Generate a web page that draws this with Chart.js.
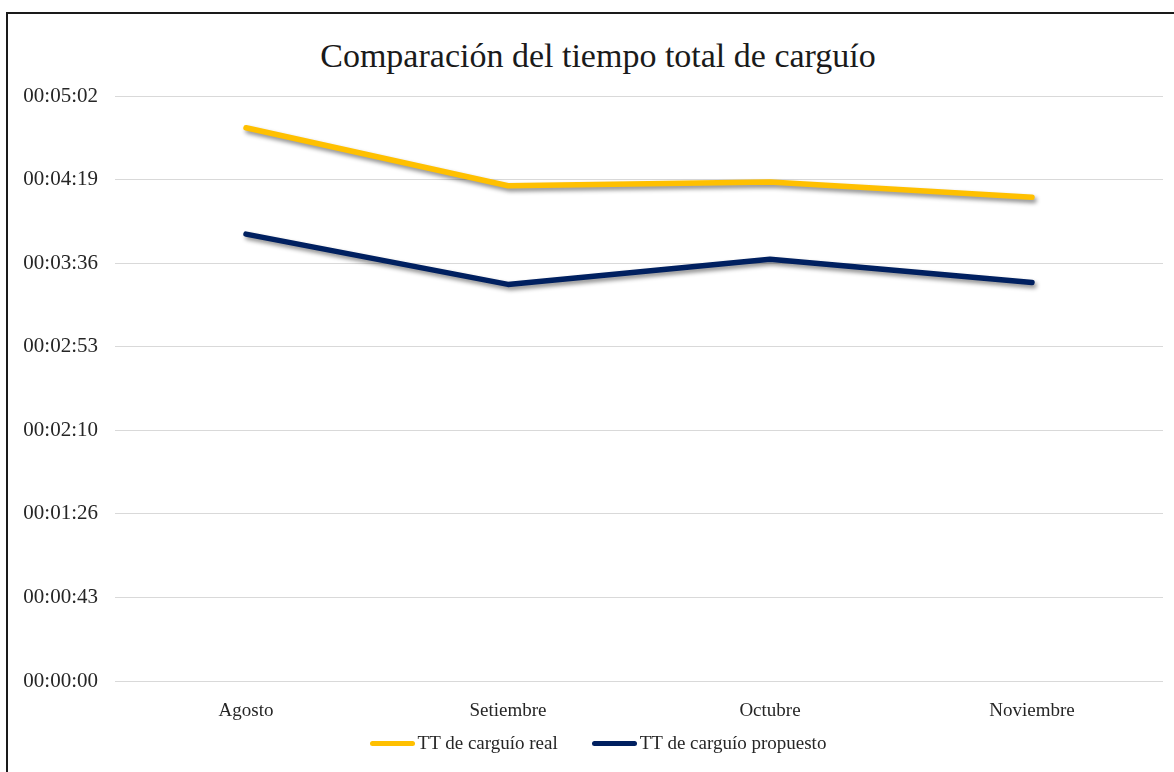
<!DOCTYPE html>
<html lang="es">
<head>
<meta charset="utf-8">
<title>Comparación del tiempo total de carguío</title>
<script src="https://cdn.jsdelivr.net/npm/chart.js@4.4.1/dist/chart.umd.min.js"></script>
<style>
    html, body { margin: 0; padding: 0; background: #fff; overflow: hidden; }
    body { width: 1174px; height: 772px; position: relative; font-family: "Liberation Serif", "Times New Roman", serif; }
    .frame { position: absolute; left: 6px; top: 12px; width: 1186px; height: 800px; border: 2px solid #1a1a1a; box-sizing: border-box; }
    .chart-title { position: absolute; left: 0; top: 35px; width: 1196px; text-align: center; font-size: 34px; line-height: 41px; color: #1a1a1a; }
    #chartWrap { position: absolute; left: 8px; top: 14px; width: 1180px; height: 758px; }
    .legend { position: absolute; left: 0; top: 732px; width: 1196px; display: flex; justify-content: center; align-items: center; font-size: 19px; color: #262626; }
    .legend-item { display: flex; align-items: center; margin: 0 17px; }
    .legend-line { width: 45px; height: 5px; border-radius: 3px; margin-right: 3px; }
</style>
</head>
<body>
<div class="frame"></div>
<div class="chart-title">Comparación del tiempo total de carguío</div>
<div id="chartWrap"><canvas id="tiempoChart"></canvas></div>
<div class="legend" id="legend"></div>

<script>
// ── Data (seconds) ───────────────────────────────────────────
const meses = ["Agosto", "Setiembre", "Octubre", "Noviembre"];
const ttReal = [286, 256, 258, 250];
const ttPropuesto = [231, 205, 218, 206];

// Y ticks: steps of 43.2 s (0.0005 day)
const tickSeconds = [0, 43.2, 86.4, 129.6, 172.8, 216, 259.2, 302.4];
const tickLabels = ["00:00:00", "00:00:43", "00:01:26", "00:02:10", "00:02:53", "00:03:36", "00:04:19", "00:05:02"];

const series = [
    { label: "TT de carguío real", data: ttReal, color: "#FFC000" },
    { label: "TT de carguío propuesto", data: ttPropuesto, color: "#002060" },
];

const FONT = "'Liberation Serif', 'Times New Roman', serif";

// Soft drop shadow under each line
const lineShadow = {
    id: "lineShadow",
    beforeDatasetDraw(chart) {
        const ctx = chart.ctx;
        ctx.save();
        ctx.shadowColor = "rgba(0, 0, 0, 0.45)";
        ctx.shadowBlur = 4;
        ctx.shadowOffsetX = 2;
        ctx.shadowOffsetY = 3;
    },
    afterDatasetDraw(chart) {
        chart.ctx.restore();
    }
};

const ctx = document.getElementById("tiempoChart").getContext("2d");
new Chart(ctx, {
    type: "line",
    data: {
        labels: meses,
        datasets: series.map(s => ({
            label: s.label,
            data: s.data,
            borderColor: s.color,
            backgroundColor: s.color,
            borderWidth: 5.5,
            borderCapStyle: "round",
            borderJoinStyle: "round",
            pointRadius: 0,
            tension: 0,
            fill: false,
        }))
    },
    options: {
        responsive: true,
        maintainAspectRatio: false,
        animation: false,
        // title sits in HTML above; top padding leaves room for it
        layout: { padding: { left: 0, right: 25, top: 82, bottom: 51 } },
        plugins: {
            legend: { display: false },
            tooltip: { enabled: false },
            title: { display: false }
        },
        scales: {
            x: {
                offset: true,
                grid: { display: false },
                border: { display: false },
                ticks: { color: "#262626", padding: 11, font: { family: FONT, size: 19 } },
                afterFit: axis => { axis.height = 40; }
            },
            y: {
                min: 0,
                max: 302.4,
                afterBuildTicks: axis => { axis.ticks = tickSeconds.map(v => ({ value: v })); },
                afterFit: axis => { axis.width = 107; },
                grid: { color: "#d9d9d9", lineWidth: 1, drawTicks: false },
                border: { display: false },
                ticks: {
                    color: "#262626",
                    padding: 17,
                    font: { family: FONT, size: 21 },
                    callback: (v, i) => tickLabels[i]
                }
            }
        }
    },
    plugins: [lineShadow]
});

// ── Legend ───────────────────────────────────────────────────
const legendEl = document.getElementById("legend");
series.forEach(s => {
    const item = document.createElement("div");
    item.className = "legend-item";
    item.innerHTML = `<span class="legend-line" style="background:${s.color}"></span><span>${s.label}</span>`;
    legendEl.appendChild(item);
});
</script>
</body>
</html>
